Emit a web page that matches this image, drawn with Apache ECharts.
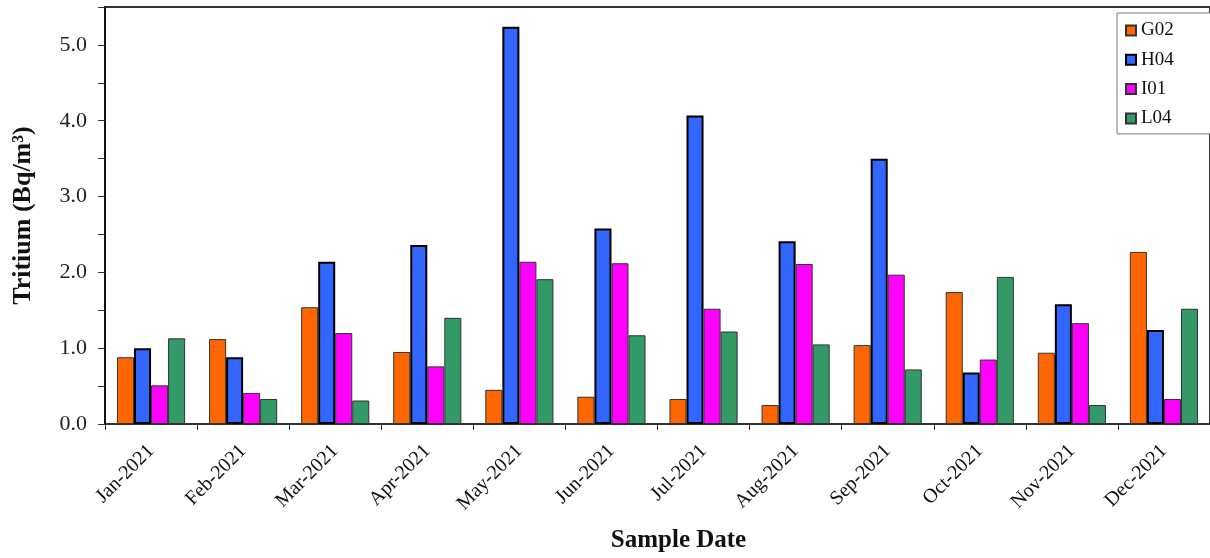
<!DOCTYPE html>
<html>
<head>
<meta charset="utf-8">
<script src="https://cdn.jsdelivr.net/npm/echarts@6/dist/echarts.min.js"></script>
<style>
html,body{margin:0;padding:0;background:#fff;}
#chart{width:1210px;height:558px;}
</style>
</head>
<body>
<div id="chart"></div>
<script>
const categories = ['Jan-2021','Feb-2021','Mar-2021','Apr-2021','May-2021','Jun-2021','Jul-2021','Aug-2021','Sep-2021','Oct-2021','Nov-2021','Dec-2021'];
const G02 = [0.88, 1.12, 1.54, 0.95, 0.45, 0.36, 0.33, 0.25, 1.04, 1.74, 0.94, 2.27];
const H04 = [1.00, 0.88, 2.14, 2.36, 5.24, 2.58, 4.07, 2.41, 3.50, 0.68, 1.58, 1.24];
const I01 = [0.51, 0.41, 1.20, 0.76, 2.14, 2.12, 1.52, 2.11, 1.97, 0.85, 1.33, 0.33];
const L04 = [1.13, 0.33, 0.31, 1.40, 1.91, 1.17, 1.22, 1.05, 0.72, 1.94, 0.25, 1.52];
const yTicks = ['0.0','1.0','2.0','3.0','4.0','5.0'];

const FONT = '"Liberation Serif", "Times New Roman", serif';
const chart = echarts.init(document.getElementById('chart'), null, {renderer:'canvas'});

function bar(name, data, color, bw, bc) {
  return {
    name, type:'bar', data,
    barGap:'0%', barCategoryGap:'26%',
    itemStyle:{color, borderColor:bc, borderWidth:bw},
    emphasis:{disabled:true}
  };
}

chart.setOption({
  animation:false,
  backgroundColor:'#fff',
  grid:{left:105, top:7, width:1108, bottom:131.3, show:true, borderColor:'#333', borderWidth:2, backgroundColor:'transparent'},
  legend:{
    orient:'vertical', left:1117, top:13,
    padding:[8,50,6,8], itemGap:10.3, itemWidth:10, itemHeight:10,
    borderColor:'#777', borderWidth:1, backgroundColor:'#fff',
    icon:'rect',
    textStyle:{fontFamily:FONT, fontSize:19, color:'#111'},
    data:['G02','H04','I01','L04']
  },
  xAxis:{
    type:'category', data:categories,
    axisLine:{lineStyle:{color:'#333', width:1.5}},
    axisTick:{show:true, length:6, lineStyle:{color:'#333', width:1}},
    axisLabel:{rotate:45, margin:24, fontFamily:FONT, fontSize:20, color:'#111', interval:0},
    name:'Sample Date', nameLocation:'middle', nameGap:104,
    nameTextStyle:{fontFamily:FONT, fontSize:25, fontWeight:'bold', color:'#111', padding:[0,0,0,42]}
  },
  yAxis:{
    type:'value', min:0, max:5.5, interval:0.5,
    axisLine:{show:true, lineStyle:{color:'#111', width:2}},
    axisTick:{show:true, length:7, lineStyle:{color:'#333', width:1}},
    splitLine:{show:false},
    axisLabel:{
      margin:18, fontFamily:FONT, fontSize:22, color:'#222',
      formatter:function(v){ const i = Math.round(v*2); return (i%2===0 && i/2 < yTicks.length) ? yTicks[i/2] : ''; }
    },
    name:'Tritium (Bq/m³)', nameLocation:'middle', nameGap:69,
    nameTextStyle:{fontFamily:FONT, fontSize:26, fontWeight:'bold', color:'#111'}
  },
  series:[
    bar('G02', G02, '#FF6600', 1, '#333'),
    bar('H04', H04, '#3366FF', 2, '#000'),
    bar('I01', I01, '#FF00FF', 1, '#333'),
    bar('L04', L04, '#339966', 1, '#333')
  ]
});
</script>
</body>
</html>
